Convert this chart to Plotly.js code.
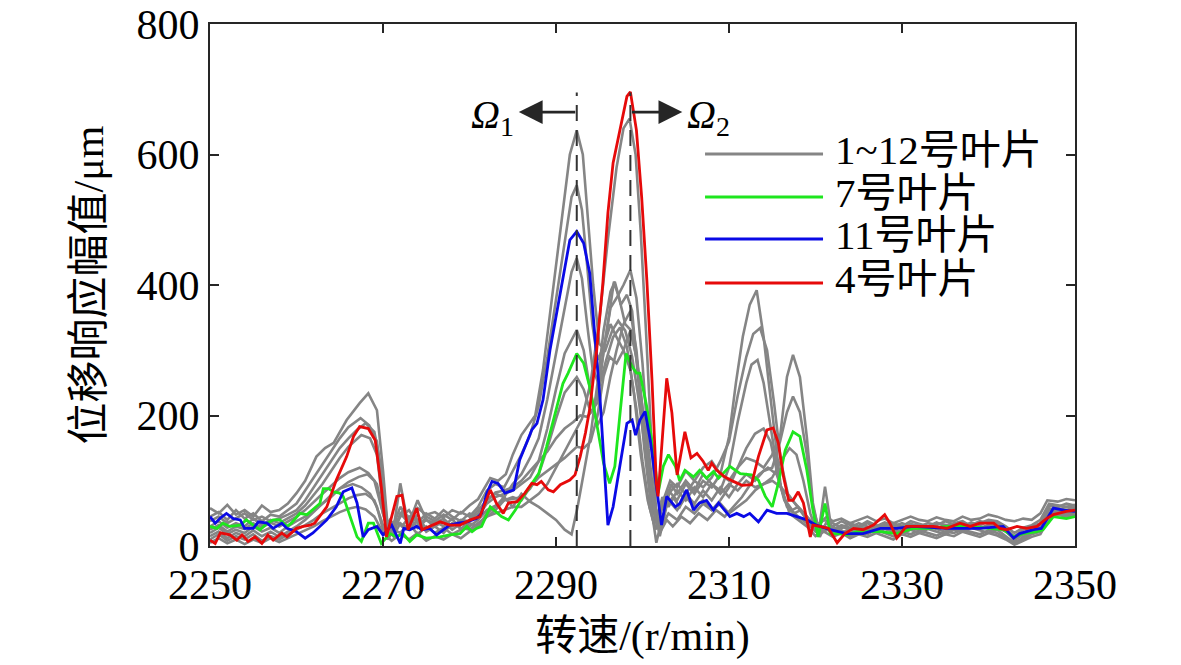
<!DOCTYPE html>
<html><head><meta charset="utf-8">
<script src="https://cdn.plot.ly/plotly-3.0.1.min.js"></script>
<style>html,body{margin:0;padding:0;background:#fff}#chart{width:1181px;height:665px}</style>
</head><body><div id="chart"></div>
<script>
// axis ticks / labels
const xTicks = [2250, 2270, 2290, 2310, 2330, 2350];
const yTicks = [0, 200, 400, 600, 800];
const xTitle = '转速/(r/min)';
const yTitle = '位移响应幅值/μm';
const omegaSpeeds = [2292.4, 2298.6];      // Ω1, Ω2 (r/min)
const omegaLevel = 665;                     // arrow height (μm)
const omegaTop = 695;                       // top of dashed marker lines
const legendNames = ['1~12号叶片', '7号叶片', '11号叶片', '4号叶片'];
const seriesColors = ['#858585', '#1ee61e', '#0a0ae6', '#e60a0a'];

// gray blades: [speed, amplitude]
const bladeA = [[2250,58],[2251,50],[2252,63],[2253,48],[2254,55],[2255,45],[2256,62],[2257,52],[2258,55],[2259,65],[2260,81],[2261,100],[2262.3,137],[2263.3,150],[2264.3,158],[2265.8,193],[2267.3,219],[2268.3,234],[2269.3,208],[2270,116],[2270.6,20],[2271.3,35],[2272,60],[2273,42],[2274,58],[2275,48],[2276,52],[2277,44],[2278,55],[2279,50],[2280,62],[2281,72],[2282.4,104],[2283.3,100],[2284.2,110],[2285,140],[2286,170],[2287,190],[2287.6,200],[2288.5,270],[2289.7,400],[2290.5,480],[2291.6,600],[2292.4,637],[2293.1,600],[2293.7,500],[2294.3,400],[2295,310],[2295.7,300],[2296.5,330],[2297.2,345],[2298,330],[2298.8,290],[2299.5,230],[2300.3,150],[2301,70],[2301.7,30],[2302.4,70],[2303.2,100],[2304,90],[2305,115],[2306,100],[2307,120],[2308,130],[2309,110],[2310,167],[2310.8,250],[2311.6,321],[2312.4,370],[2313.2,392],[2314,321],[2314.6,250],[2315.3,167],[2316,90],[2316.7,60],[2317.5,50],[2318.3,55],[2319,40],[2319.8,30],[2320.5,35],[2321.3,45],[2322,38],[2323,42],[2324,35],[2325,40],[2326,45],[2327,38],[2328,42],[2329,35],[2330,40],[2331,45],[2332,40],[2333,38],[2334,44],[2335,40],[2336,38],[2337,45],[2338,40],[2339,42],[2340,48],[2341,45],[2342,40],[2343,38],[2344,42],[2345,40],[2346,50],[2346.8,70],[2348,68],[2349,72],[2350,70]];
const bladeB = [[2250,45],[2251,52],[2252,40],[2253,55],[2254,42],[2255,50],[2256,38],[2257,48],[2258,45],[2259,55],[2260,65],[2261,85],[2262,105],[2263,125],[2264,145],[2265,165],[2266,182],[2267.4,196],[2268.4,185],[2269.3,160],[2270,80],[2270.6,15],[2271.2,25],[2272,96],[2272.8,40],[2273.5,50],[2274.2,30],[2275,45],[2276,38],[2277,48],[2278,40],[2279,52],[2280,45],[2281,60],[2282,85],[2283,95],[2284,90],[2285,115],[2286,140],[2287,170],[2288,215],[2289,290],[2290,380],[2291,470],[2291.8,535],[2292.4,553],[2293,515],[2293.6,430],[2294.2,340],[2294.8,285],[2295.5,305],[2296.3,340],[2297,320],[2297.8,300],[2298.6,270],[2299.3,210],[2300,130],[2300.8,60],[2301.5,25],[2302.2,55],[2303,80],[2304,95],[2305,80],[2306,100],[2307,90],[2308,105],[2309,130],[2310,160],[2311,230],[2312,290],[2312.8,325],[2313.6,334],[2314.4,300],[2315.2,220],[2316,130],[2316.8,80],[2317.6,65],[2318.5,50],[2319.3,35],[2320,25],[2321,30],[2322,25],[2323,32],[2324,28],[2325,35],[2326,30],[2327,28],[2328,33],[2329,30],[2330,35],[2331,30],[2332,33],[2333,28],[2334,35],[2335,32],[2336,30],[2337,35],[2338,32],[2339,38],[2340,35],[2341,30],[2342,25],[2343,15],[2344,25],[2345,30],[2346,35],[2347,62],[2348,60],[2349,65],[2350,62]];
const bladeC = [[2250,38],[2251,45],[2252,35],[2253,42],[2254,50],[2255,40],[2256,45],[2257,38],[2258,42],[2259,48],[2260,55],[2261,70],[2262,90],[2263,110],[2264,130],[2265,150],[2266,165],[2267,178],[2268,188],[2269,175],[2269.8,120],[2270.5,30],[2271.2,20],[2272,50],[2273,35],[2274,70],[2275,40],[2276,35],[2277,42],[2278,30],[2279,40],[2280,38],[2281,50],[2282,70],[2283,80],[2284,75],[2285,95],[2286,110],[2287,135],[2288,165],[2289,225],[2290,295],[2291,370],[2291.8,420],[2292.4,441],[2293,410],[2293.6,340],[2294.2,275],[2295,245],[2295.8,285],[2296.6,320],[2297.4,335],[2298.2,305],[2299,235],[2299.8,140],[2300.6,70],[2301.3,35],[2302,60],[2303,85],[2304,70],[2305,95],[2306,80],[2307,100],[2308,90],[2309,110],[2310,100],[2311,120],[2312,135],[2313,130],[2314,120],[2315,140],[2315.9,167],[2316.7,259],[2317.4,293],[2318.2,259],[2319,167],[2319.7,66],[2320.5,14],[2321.2,35],[2322,30],[2323,38],[2324,32],[2325,28],[2326,35],[2327,30],[2328,36],[2329,32],[2330,28],[2331,34],[2332,30],[2333,35],[2334,32],[2335,38],[2336,33],[2337,30],[2338,36],[2339,32],[2340,38],[2341,35],[2342,28],[2343,8],[2344,20],[2345,28],[2346,32],[2347,58],[2348,55],[2349,60],[2350,58]];
const bladeD = [[2250,30],[2251,38],[2252,28],[2253,35],[2254,30],[2255,42],[2256,32],[2257,40],[2258,35],[2259,42],[2260,50],[2261,62],[2262,78],[2263,95],[2264,115],[2265,135],[2266,152],[2267.5,170],[2268.5,165],[2269.3,140],[2270,60],[2270.6,10],[2271.3,30],[2272,45],[2273,55],[2274,35],[2275,50],[2276,42],[2277,55],[2278,45],[2279,38],[2280,50],[2281,45],[2282,65],[2283,75],[2284,80],[2285,85],[2286,95],[2287,105],[2288,130],[2289,180],[2290,240],[2291,295],[2292.4,331],[2293.2,300],[2294,235],[2294.8,185],[2295.5,205],[2296.3,260],[2297,300],[2297.8,340],[2298.6,360],[2299.3,300],[2300,200],[2300.8,100],[2301.6,40],[2302.3,75],[2303,60],[2304,85],[2305,70],[2306,90],[2307,75],[2308,95],[2309,85],[2310,120],[2311,190],[2312,250],[2312.6,278],[2313.3,285],[2314,250],[2315,170],[2315.8,100],[2316.5,70],[2317.3,55],[2318,60],[2319,45],[2320,30],[2321,40],[2322,35],[2323,28],[2324,35],[2325,30],[2326,38],[2327,32],[2328,28],[2329,35],[2330,30],[2331,38],[2332,34],[2333,30],[2334,36],[2335,30],[2336,35],[2337,38],[2338,30],[2339,35],[2340,40],[2341,38],[2342,30],[2343,20],[2344,28],[2345,32],[2346,40],[2347,65],[2348,62],[2349,60],[2350,63]];
const bladeE = [[2250,25],[2251,32],[2252,22],[2253,30],[2254,26],[2255,35],[2256,28],[2257,36],[2258,30],[2259,38],[2260,45],[2261,55],[2262,68],[2263,80],[2264,92],[2265,104],[2266,113],[2267.3,120],[2268.3,112],[2269.3,95],[2270,50],[2270.7,20],[2271.4,40],[2272.2,30],[2273,45],[2274,28],[2275,40],[2276,30],[2277,38],[2278,25],[2279,35],[2280,30],[2281,40],[2282,55],[2283,62],[2284,70],[2285,72],[2286,75],[2287,88],[2288,110],[2289,150],[2290,195],[2291,235],[2292.4,259],[2293.2,240],[2294,205],[2294.8,220],[2295.5,300],[2296.3,365],[2297,380],[2297.8,400],[2298.6,423],[2299.3,380],[2300,280],[2300.7,150],[2301.4,60],[2302,20],[2302.7,60],[2303.5,75],[2304.3,60],[2305,80],[2306,65],[2307,85],[2308,70],[2309,90],[2310,75],[2311,95],[2312,110],[2313,100],[2314,115],[2315,120],[2315.9,160],[2316.7,205],[2317.4,229],[2318.2,205],[2319,140],[2319.7,60],[2320.4,25],[2321.1,91],[2321.8,30],[2322.5,25],[2323.5,30],[2324.5,22],[2325.5,28],[2326.5,25],[2327.5,32],[2328.5,28],[2329.5,22],[2330.5,28],[2331.5,32],[2332.5,26],[2333.5,30],[2334.5,28],[2335.5,25],[2336.5,30],[2337.5,33],[2338.5,28],[2339.5,30],[2340.5,34],[2341.5,30],[2342.5,20],[2343.3,5],[2344,15],[2345,22],[2346,30],[2347,55],[2348,58],[2349,55],[2350,60]];
const bladeF = [[2250,20],[2251,28],[2252,18],[2253,25],[2254,20],[2255,30],[2256,22],[2257,28],[2258,20],[2259,30],[2260,38],[2261,45],[2262,55],[2263,65],[2264,75],[2265,88],[2266,98],[2267.2,106],[2268.2,110],[2269,100],[2269.8,60],[2270.5,25],[2271.2,15],[2272,35],[2273,25],[2274,40],[2275,22],[2276,30],[2277,20],[2278,35],[2279,28],[2280,25],[2281,35],[2282,45],[2283,50],[2284,55],[2285,60],[2286,60],[2287,70],[2288,80],[2289,95],[2290,120],[2291,145],[2292,170],[2293,195],[2294,250],[2295,345],[2296,470],[2297,580],[2297.8,640],[2298.5,655],[2299.2,600],[2299.8,480],[2300.4,330],[2301,170],[2301.6,50],[2302,15],[2302.6,50],[2303.3,95],[2304,80],[2305,100],[2306,85],[2307,110],[2308,95],[2309,80],[2310,95],[2311,85],[2312,100],[2313,90],[2314,95],[2315,105],[2316,130],[2317,150],[2317.8,140],[2318.6,100],[2319.4,50],[2320.2,20],[2321,28],[2322,22],[2323,30],[2324,25],[2325,20],[2326,28],[2327,24],[2328,30],[2329,26],[2330,22],[2331,28],[2332,25],[2333,30],[2334,26],[2335,22],[2336,28],[2337,25],[2338,30],[2339,27],[2340,32],[2341,28],[2342,22],[2343,10],[2344,18],[2345,24],[2346,28],[2347,50],[2348,55],[2349,52],[2350,55]];
const bladeG = [[2250,15],[2251,22],[2252,12],[2253,20],[2254,15],[2255,24],[2256,15],[2257,22],[2258,14],[2259,22],[2260,30],[2261,40],[2262,52],[2263,65],[2264,78],[2265,88],[2266.5,95],[2267.5,90],[2268.5,80],[2269.3,60],[2270,25],[2270.8,40],[2271.5,30],[2272.3,55],[2273,30],[2274,48],[2275,25],[2276,38],[2277,30],[2278,42],[2279,25],[2280,35],[2281,30],[2282,50],[2283,60],[2284,75],[2285,60],[2286,80],[2287,68],[2288,60],[2289,50],[2290,40],[2291,25],[2291.8,18],[2292.5,60],[2293.2,110],[2294,170],[2294.8,250],[2295.5,330],[2296.3,390],[2296.8,405],[2297.5,370],[2298.2,385],[2298.8,360],[2299.5,260],[2300.2,150],[2301,60],[2301.6,5],[2302.3,45],[2303,70],[2304,55],[2305,75],[2306,60],[2307,70],[2308,55],[2309,65],[2310,50],[2311,60],[2312,70],[2313,85],[2314,95],[2315,100],[2316,90],[2317,75],[2318,60],[2319,45],[2320,30],[2321,22],[2322,30],[2323,20],[2324,26],[2325,18],[2326,25],[2327,20],[2328,26],[2329,22],[2330,18],[2331,25],[2332,20],[2333,26],[2334,22],[2335,18],[2336,25],[2337,22],[2338,28],[2339,24],[2340,20],[2341,25],[2342,15],[2343,5],[2344,12],[2345,20],[2346,25],[2347,48],[2348,52],[2349,50],[2350,52]];
const bladeH = [[2250,10],[2251,18],[2252,8],[2253,15],[2254,10],[2255,18],[2256,8],[2257,15],[2258,10],[2259,18],[2260,25],[2261,32],[2262,40],[2263,50],[2264,58],[2265,66],[2266,73],[2267,78],[2268,80],[2269,70],[2269.8,40],[2270.5,10],[2271.2,25],[2272,20],[2273,35],[2274,18],[2275,30],[2276,20],[2277,28],[2278,18],[2279,25],[2280,40],[2281,55],[2282,70],[2283,82],[2284,85],[2285,90],[2286,100],[2287,115],[2288,130],[2289,145],[2290,165],[2291,180],[2292,190],[2292.8,200],[2293.6,198],[2294.4,210],[2295.2,270],[2296,340],[2296.7,405],[2297.3,380],[2298,340],[2298.7,330],[2299.4,280],[2300.1,200],[2300.8,120],[2301.5,50],[2302.2,30],[2303,50],[2304,40],[2305,60],[2306,50],[2307,65],[2308,55],[2309,70],[2310,90],[2311,120],[2312,150],[2313,172],[2314,180],[2314.8,160],[2315.6,110],[2316.4,70],[2317.2,55],[2318,45],[2319,35],[2320,22],[2321,30],[2322,18],[2323,24],[2324,15],[2325,22],[2326,18],[2327,25],[2328,20],[2329,15],[2330,22],[2331,18],[2332,24],[2333,20],[2334,16],[2335,22],[2336,20],[2337,25],[2338,22],[2339,18],[2340,24],[2341,20],[2342,12],[2343,3],[2344,10],[2345,18],[2346,22],[2347,45],[2348,50],[2349,48],[2350,50]];
const bladeI = [[2250,5],[2251,12],[2252,4],[2253,10],[2254,3],[2255,10],[2256,5],[2257,12],[2258,6],[2259,12],[2260,18],[2261,24],[2262,30],[2263,38],[2264,45],[2265,52],[2266,57],[2267,60],[2268,56],[2269,45],[2270,20],[2271,8],[2272,18],[2273,10],[2274,20],[2275,8],[2276,15],[2277,10],[2278,18],[2279,12],[2280,22],[2281,30],[2282,45],[2283,55],[2284,70],[2285,75],[2286,70],[2287,90],[2288,105],[2289,115],[2290,125],[2291,135],[2292.4,152],[2293.2,150],[2294,160],[2294.8,200],[2295.5,260],[2296.2,290],[2297,280],[2297.8,300],[2298.6,330],[2299.3,290],[2300,210],[2300.8,110],[2301.5,40],[2302,20],[2302.8,40],[2303.5,30],[2304.5,45],[2305.5,35],[2306.5,50],[2307.5,40],[2308.5,55],[2309.5,45],[2310.5,60],[2311.5,75],[2312.5,95],[2313.5,110],[2314.5,120],[2315.5,110],[2316.3,80],[2317,50],[2318,40],[2319,30],[2320,15],[2321,22],[2322,14],[2323,20],[2324,12],[2325,18],[2326,14],[2327,20],[2328,15],[2329,10],[2330,18],[2331,14],[2332,20],[2333,16],[2334,12],[2335,18],[2336,15],[2337,22],[2338,18],[2339,14],[2340,20],[2341,16],[2342,10],[2343,2],[2344,8],[2345,14],[2346,18],[2347,42],[2348,48],[2349,45],[2350,48]];

// highlighted blades
const blade7 = [[2250,30],[2250.8,27],[2251.5,35],[2252.3,30],[2253.5,32],[2254.2,40],[2255,32],[2255.8,25],[2256.6,35],[2257.3,40],[2258.1,40],[2258.9,30],[2259.4,35],[2260.4,50],[2261.2,48],[2261.8,55],[2262.7,65],[2263.1,88],[2263.7,88],[2264.3,83],[2265,81],[2265.4,76],[2266.2,45],[2267,14],[2267.5,7],[2268.3,35],[2268.9,35],[2269.8,4],[2270.8,19],[2271.6,14],[2272.3,19],[2273.1,7],[2273.9,17],[2275,12],[2276.6,14],[2277.7,17],[2278.9,19],[2279.7,30],[2280.3,22],[2280.8,27],[2281.4,30],[2282.4,60],[2283,53],[2283.7,45],[2284.5,40],[2285.3,55],[2286.2,76],[2287.2,96],[2288,111],[2288.9,152],[2289.9,203],[2290.8,249],[2291.4,265],[2292.4,295],[2293.2,280],[2293.9,244],[2294.7,188],[2295.5,127],[2296.2,96],[2296.8,122],[2297.4,203],[2298.1,295],[2298.8,275],[2299.3,265],[2299.7,265],[2300.5,213],[2301.3,142],[2301.8,81],[2302.4,122],[2303,140],[2303.8,122],[2304.3,100],[2304.9,116],[2305.9,106],[2306.6,116],[2307.4,104],[2308.2,114],[2308.8,104],[2310.1,122],[2311.3,111],[2312.6,109],[2313.4,101],[2314.2,76],[2315,60],[2315.7,96],[2316.5,147],[2317.4,175],[2318.2,168],[2319,116],[2319.7,55],[2320.3,14],[2321.1,65],[2321.7,19],[2322.6,19],[2323.6,17],[2324.8,22],[2325.9,22],[2327.5,22],[2329.4,19],[2331.3,27],[2333.2,27],[2335.2,30],[2337.5,30],[2339.8,27],[2341.7,25],[2342.9,14],[2344,19],[2345.6,22],[2346.3,25],[2347.5,45],[2349,42],[2350,45]];
const blade11 = [[2250,45],[2250.6,35],[2251.2,43],[2251.9,50],[2252.7,42],[2253.5,40],[2254,27],[2255,27],[2255.6,37],[2256.6,35],[2257.3,27],[2258.3,35],[2258.9,27],[2260,22],[2261,12],[2261.9,20],[2263.5,40],[2264.6,60],[2265.4,83],[2266.4,89],[2267,66],[2267.7,14],[2268.3,25],[2269.3,30],[2270,17],[2271,32],[2272,4],[2272.4,27],[2273.1,25],[2273.9,30],[2274.5,25],[2275.4,27],[2276.2,17],[2277,25],[2277.7,32],[2278.7,35],[2279.7,37],[2280.8,42],[2281.4,50],[2282,81],[2282.6,99],[2283.3,96],[2284.1,81],[2285.1,86],[2285.8,132],[2286.6,158],[2287.2,178],[2287.8,188],[2288.5,224],[2289.3,300],[2290.5,387],[2291.6,469],[2292.4,482],[2293.2,464],[2293.9,418],[2294.5,326],[2295.1,224],[2295.7,96],[2296,32],[2296.6,60],[2297.4,122],[2298.2,188],[2298.8,193],[2299.2,170],[2299.7,193],[2300.3,206],[2300.9,162],[2301.6,96],[2302.2,32],[2302.8,76],[2303.8,60],[2304.3,65],[2305.1,86],[2305.9,55],[2306.6,66],[2307.4,70],[2308.2,55],[2308.8,66],[2310.1,45],[2310.9,50],[2311.7,45],[2312.4,50],[2313.4,37],[2314.4,55],[2315.5,50],[2316.7,50],[2317.8,45],[2319,40],[2320.1,32],[2321.7,25],[2323.6,19],[2325.5,19],[2327.5,27],[2329.4,27],[2331.3,30],[2335.2,27],[2339,27],[2341.7,30],[2342.9,12],[2343.6,19],[2345.2,25],[2346.1,27],[2347.5,58],[2348.7,55],[2350,53]];
const blade4 = [[2250,9],[2250.6,4],[2251.2,20],[2252.3,17],[2253.1,9],[2253.7,17],[2254.4,7],[2255.2,14],[2256,4],[2256.7,17],[2257.3,9],[2258.3,20],[2258.9,14],[2260,27],[2260.8,30],[2261.6,32],[2262.1,35],[2262.7,45],[2263.5,60],[2264.6,101],[2265.8,137],[2266.6,168],[2267.3,183],[2268.3,180],[2269.1,162],[2269.8,91],[2270.4,14],[2271.6,76],[2272.2,78],[2272.9,25],[2273.9,58],[2274.5,25],[2275.4,30],[2276.6,37],[2277.7,32],[2278.9,32],[2280.1,40],[2281.2,45],[2282.4,86],[2283.1,66],[2283.9,50],[2284.5,66],[2285.5,68],[2286.4,81],[2287.2,96],[2287.8,94],[2288.3,99],[2289.1,86],[2289.7,83],[2290.5,94],[2291.6,101],[2292.2,109],[2292.8,137],[2293.4,173],[2293.9,210],[2294.7,300],[2295.4,400],[2296,510],[2296.6,587],[2297.4,637],[2298.2,689],[2298.6,696],[2299.3,637],[2299.9,535],[2300.5,408],[2301.1,254],[2301.6,96],[2301.8,76],[2302.8,257],[2303.4,204],[2304,109],[2304.9,175],[2305.6,135],[2306.3,142],[2307,130],[2307.6,116],[2308,127],[2308.6,116],[2309.5,106],[2310.5,99],[2311.5,93],[2312.6,94],[2313.4,137],[2314.4,178],[2315.1,181],[2315.7,158],[2316.3,106],[2316.9,70],[2317.4,70],[2318,83],[2318.6,66],[2319.4,14],[2319.7,32],[2320.5,30],[2321.5,27],[2322.5,5],[2323.4,19],[2324.4,27],[2325.5,25],[2326.7,32],[2328,48],[2328.6,35],[2329.4,12],[2330.5,30],[2332.1,30],[2333.6,30],[2335.2,27],[2336.7,35],[2337.9,30],[2339,35],[2340.6,35],[2341.3,27],[2342.1,25],[2343.3,30],[2344.4,27],[2345.6,30],[2346.7,42],[2347.5,48],[2349,53],[2350,55]];

const grayBlades = [bladeA, bladeB, bladeC, bladeD, bladeE, bladeF, bladeG, bladeH, bladeI];
const colourBlades = [blade7, blade11, blade4];

const FONT = 'Liberation Serif, Times New Roman, Noto Sans CJK SC, serif';
const AX = '#262626';

const traces = [];
grayBlades.forEach((b) => traces.push({
  x: b.map(p => p[0]), y: b.map(p => p[1]), type: 'scatter', mode: 'lines',
  name: legendNames[0], showlegend: false, hoverinfo: 'skip',
  line: {color: seriesColors[0], width: 2.6}
}));
colourBlades.forEach((b, i) => traces.push({
  x: b.map(p => p[0]), y: b.map(p => p[1]), type: 'scatter', mode: 'lines',
  name: legendNames[i + 1], showlegend: false, hoverinfo: 'skip',
  line: {color: seriesColors[i + 1], width: 2.8}
}));

const shapes = omegaSpeeds.map(s => ({
  type: 'line', xref: 'x', yref: 'y', x0: s, x1: s, y0: 0, y1: omegaTop,
  line: {color: '#333333', width: 2, dash: '16px,9px'}, layer: 'above'
}));
const annotations = [];
// arrows
annotations.push({xref: 'x', yref: 'y', axref: 'x', ayref: 'y', x: omegaSpeeds[0] - 6.7, y: omegaLevel,
  ax: omegaSpeeds[0], ay: omegaLevel, text: '', showarrow: true, arrowhead: 2, arrowsize: 1.7,
  arrowwidth: 2.8, arrowcolor: AX, standoff: 0, startstandoff: 0});
annotations.push({xref: 'x', yref: 'y', axref: 'x', ayref: 'y', x: omegaSpeeds[1] + 6.0, y: omegaLevel,
  ax: omegaSpeeds[1], ay: omegaLevel, text: '', showarrow: true, arrowhead: 2, arrowsize: 1.7,
  arrowwidth: 2.8, arrowcolor: AX, standoff: 0, startstandoff: 0});
annotations.push({xref: 'x', yref: 'y', x: omegaSpeeds[0] - 7.0, y: omegaLevel - 8, xanchor: 'right', yanchor: 'middle',
  text: '<i>Ω</i><sub>1</sub>', showarrow: false, font: {family: FONT, size: 40, color: '#000'}});
annotations.push({xref: 'x', yref: 'y', x: omegaSpeeds[1] + 6.3, y: omegaLevel - 8, xanchor: 'left', yanchor: 'middle',
  text: '<i>Ω</i><sub>2</sub>', showarrow: false, font: {family: FONT, size: 40, color: '#000'}});

// legend drawn in paper space
const legY = [0.751, 0.6686, 0.5881, 0.5038];
legendNames.forEach((n, i) => {
  shapes.push({type: 'line', xref: 'paper', yref: 'paper', x0: 0.5723, x1: 0.7087, y0: legY[i], y1: legY[i],
    line: {color: seriesColors[i], width: 3}});
  annotations.push({xref: 'paper', yref: 'paper', x: 0.7202, y: legY[i] + 0.008, xanchor: 'left', yanchor: 'middle',
    text: n, showarrow: false, font: {family: FONT, size: 41, color: '#000'}});
});

const layout = {
  width: 1181, height: 665,
  margin: {l: 210, r: 106, t: 24, b: 119, pad: 0},
  paper_bgcolor: '#fff', plot_bgcolor: '#fff',
  showlegend: false,
  font: {family: FONT, color: '#000', size: 40},
  xaxis: {
    range: [2250, 2350], tickvals: xTicks, ticktext: xTicks.map(String),
    ticks: 'inside', ticklen: 9, tickwidth: 2, tickcolor: AX,
    showline: true, linecolor: AX, linewidth: 2.2, mirror: 'ticks',
    showgrid: false, zeroline: false,
    tickfont: {family: FONT, size: 42, color: '#000'},
    title: {text: xTitle, font: {family: FONT, size: 42, color: '#000'}, standoff: 14}
  },
  yaxis: {
    range: [0, 800], tickvals: yTicks, ticktext: yTicks.map(String),
    ticks: 'inside', ticklen: 9, tickwidth: 2, tickcolor: AX,
    showline: true, linecolor: AX, linewidth: 2.2, mirror: 'ticks',
    showgrid: false, zeroline: false,
    tickfont: {family: FONT, size: 42, color: '#000'},
    title: {text: yTitle, font: {family: FONT, size: 42, color: '#000'}, standoff: 20}
  },
  shapes: shapes,
  annotations: annotations
};

Plotly.newPlot('chart', traces, layout, {staticPlot: true, displayModeBar: false});
</script>
</body></html>
